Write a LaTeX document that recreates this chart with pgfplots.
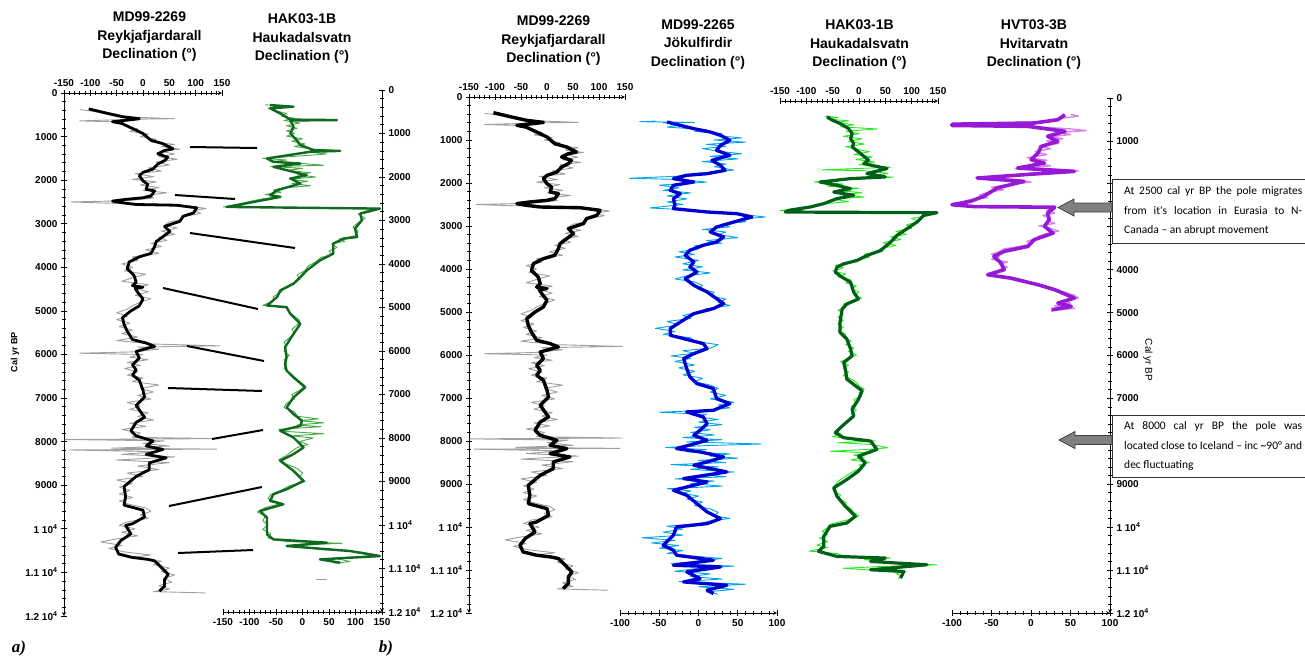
\documentclass[border=0pt]{standalone}
\usepackage{pgfplots}
\pgfplotsset{compat=1.18}
\usepackage{pgfplotstable}
\usepackage{fontspec}
\setmainfont{Liberation Sans}
\newfontfamily\notefont{Carlito}
\newfontfamily\serifb{Liberation Serif}

\definecolor{rawgray}{RGB}{160,160,160}
\definecolor{dblue}{RGB}{0,0,210}
\definecolor{lblue}{RGB}{0,165,235}
\definecolor{dgreen}{RGB}{0,95,25}
\definecolor{lgreen}{RGB}{40,235,30}
\definecolor{agreen}{RGB}{15,105,30}
\definecolor{algreen}{RGB}{70,170,70}
\definecolor{dpurple}{RGB}{150,25,215}
\definecolor{lpurple}{RGB}{215,130,230}

% MD99-2269 smoothed declination
\pgfplotstableread{
a v
364 -103
465 -68
543 -39
590 -7
610 -20
659 -58
700 -40
814 -20
930 0
1085 15
1163 38
1280 57
1318 41
1395 28
1473 47
1550 41
1628 28
1744 19
1821 0
1899 -7
2015 0
2093 9
2209 6
2248 22
2364 15
2403 0
2441 -33
2480 -58
2519 -39
2558 -13
2575 64
2635 102
2751 96
2829 76
2945 70
2984 60
3061 41
3178 51
3294 38
3410 25
3526 22
3681 15
3759 -7
3875 -26
4030 -30
4185 -17
4340 -13
4420 -20
4456 0
4480 -15
4573 -10
4727 0
4883 -7
4999 -23
5154 -39
5309 -36
5464 -30
5658 -20
5735 6
5813 22
5929 -13
6084 -7
6239 -20
6355 -13
6471 -20
6587 -7
6820 0
6975 3
7169 -13
7324 -4
7441 3
7557 -13
7750 -23
7867 -13
7983 19
8099 6
8177 38
8293 6
8370 44
8487 12
8642 12
8797 -13
9030 -36
9262 -33
9456 -36
9572 0
9727 3
9882 -20
9920 -33
10114 -23
10269 -42
10424 -52
10579 -46
10656 -20
10700 9
10734 22
10889 35
11044 48
11160 41
11315 41
11431 31
}\mdsmooth

% MD99-2269 raw declination
\pgfplotstableread{
a v
380 -120
420 -95
470 -75
540 -50
590 60
600 -10
640 -120
660 -60
700 -40
760 -35
820 -10
880 -25
940 10
1000 -5
1060 25
1120 15
1180 60
1230 35
1290 70
1340 35
1400 60
1460 30
1520 65
1580 25
1650 50
1720 10
1790 35
1850 -15
1920 20
1980 -20
2040 25
2110 -5
2170 30
2230 0
2290 45
2350 5
2410 20
2470 -30
2500 -137
2530 -60
2560 60
2600 90
2650 120
2700 95
2760 110
2830 80
2900 75
2960 50
3040 40
3100 65
3170 35
3240 60
3310 30
3380 45
3450 15
3520 35
3600 5
3680 30
3760 -20
3840 -10
3920 -40
4000 -20
4080 -35
4160 5
4240 -20
4320 -40
4400 10
4480 -15
4560 10
4640 -15
4720 15
4800 -5
4880 -20
4960 -30
5040 -50
5120 -30
5200 -50
5280 -25
5360 -45
5440 -20
5520 -40
5600 -10
5680 -50
5760 20
5800 145
5830 -10
5880 30
5940 -20
5970 -120
6000 0
6060 -25
6120 10
6180 -30
6250 -5
6320 -35
6400 -10
6470 -30
6540 0
6620 -20
6700 30
6780 -5
6860 20
6940 -10
7020 15
7100 -30
7180 -5
7260 -25
7340 10
7420 -10
7500 20
7580 -25
7650 5
7720 -40
7800 -5
7900 -20
7930 145
7950 -148
7980 40
8040 0
8100 50
8150 -60
8170 140
8190 -140
8230 30
8290 -40
8350 60
8420 -50
8480 50
8560 -10
8640 30
8720 -30
8800 0
8880 -50
8960 -20
9040 -45
9120 -25
9200 -45
9280 -20
9360 -45
9440 -25
9520 5
9600 15
9680 -5
9760 10
9840 -30
9920 -45
10000 -15
10080 -40
10160 -10
10240 -55
10300 -80
10380 -40
10450 -65
10530 -35
10600 15
10660 -30
10740 35
10820 20
10900 50
10980 35
11060 60
11140 40
11220 55
11300 30
11380 50
11440 20
11470 118
}\mdraw

% MD99-2265 smoothed
\pgfplotstableread{
a v
581 -40
620 -32
736 -6
814 15
891 28
1008 40
1124 28
1240 23
1356 40
1473 17
1589 28
1705 34
1783 11
1821 -15
1899 -32
1976 -6
2054 -32
2170 -36
2248 -23
2364 -32
2519 -30
2596 -32
2674 11
2713 49
2790 68
2907 45
3023 23
3139 15
3255 32
3371 23
3449 6
3565 -11
3681 -17
3836 -6
3952 -11
4069 -2
4224 -17
4379 -6
4534 11
4689 23
4805 32
4921 19
5038 -6
5231 -23
5386 -36
5541 -36
5619 -19
5735 6
5851 11
5968 -6
6084 -19
6316 -15
6510 -11
6665 -2
6781 19
7014 23
7130 40
7285 19
7324 -15
7441 6
7596 11
7750 2
7867 -6
7983 11
8177 -28
8254 2
8370 32
8487 11
8564 -6
8719 36
8874 -19
8952 11
9146 -32
9262 -15
9456 -2
9650 11
9805 28
9921 11
9998 -28
10192 -32
10424 -45
10540 -32
10656 -28
10772 19
10889 -32
10928 28
11044 -15
11199 2
11277 -19
11354 36
11470 11
11548 19
}\jksmooth

% MD99-2265 raw
\pgfplotstableread{
a v
560 -55
575 -75
585 -20
590 -5
600 -45
640 -20
700 -40
760 10
800 -5
850 30
900 25
950 55
1000 20
1050 60
1100 10
1150 35
1200 5
1260 25
1320 55
1380 15
1440 50
1500 5
1560 35
1620 20
1700 45
1780 -5
1840 -25
1890 -88
1920 -20
1980 10
2050 -50
2110 -25
2170 -45
2230 -10
2300 -40
2370 -15
2440 -40
2500 -20
2580 -62
2620 -20
2680 30
2740 60
2790 85
2850 50
2900 60
2960 30
3020 40
3080 5
3140 35
3200 25
3270 50
3340 10
3400 30
3460 -5
3530 0
3600 -25
3660 -5
3720 -30
3800 0
3880 -20
3950 5
4020 -20
4090 15
4160 -15
4230 -30
4300 -5
4380 5
4460 0
4540 20
4620 15
4700 35
4780 25
4850 40
4920 10
5000 0
5080 -20
5150 -10
5220 -40
5300 -25
5380 -55
5450 -30
5520 -45
5600 -10
5680 -5
5760 25
5840 15
5900 -20
5960 -5
6020 -35
6080 -10
6150 -30
6230 -5
6300 -25
6380 -5
6460 -20
6540 5
6620 -5
6700 15
6780 25
6860 15
6940 35
7020 15
7100 45
7160 25
7230 40
7290 5
7330 -50
7380 10
7440 0
7500 25
7560 0
7620 30
7680 -5
7740 15
7800 -10
7860 20
7920 -20
7970 30
8020 -15
8070 80
8110 5
8150 -42
8200 10
8250 -15
8300 40
8350 15
8400 50
8450 0
8500 35
8550 -35
8600 25
8660 -10
8720 45
8780 5
8830 35
8880 -30
8930 20
8990 -10
9050 30
9110 -40
9160 -10
9220 -20
9280 0
9350 -15
9420 5
9500 -5
9580 15
9660 25
9740 20
9800 40
9860 15
9920 0
9980 -40
10050 -20
10120 -45
10190 -20
10250 -72
10310 -30
10370 -60
10430 -25
10490 -50
10550 -20
10610 -40
10670 -10
10730 30
10790 5
10850 -35
10910 45
10970 -5
11030 -30
11090 15
11150 -10
11210 30
11270 -25
11330 60
11390 0
11450 45
11510 10
11560 25
}\jkraw

% HAK03-1B smoothed
\pgfplotstableread{
a v
466 -61
544 -51
622 -36
738 -20
855 -13
971 -16
1088 -10
1166 -13
1321 3
1476 18
1554 9
1671 53
1787 15
1865 50
1904 -16
1982 -74
2059 -42
2137 -16
2215 -48
2292 -10
2370 -42
2486 -67
2564 -93
2642 -134
2680 -140
2696 148
2758 123
2914 110
3069 91
3224 72
3380 60
3574 41
3691 15
3807 -4
3885 -29
3963 -42
4079 -45
4196 -32
4312 -16
4545 -10
4701 -1
4817 -23
4934 -32
5245 -36
5478 -36
5633 -23
5866 -16
6022 -13
6177 -29
6333 -26
6566 -23
6838 6
7032 -1
7265 -13
7421 -10
7654 -32
7809 -45
7926 -29
8003 22
8197 34
8353 -1
8508 12
8702 -1
8897 -23
9091 -48
9285 -42
9518 -26
9751 -7
9907 -23
9985 -55
10218 -67
10451 -67
10567 -77
10684 -42
10723 50
10800 22
10839 72
10878 129
10995 22
11034 85
11189 79
}\haksmooth

% HAK03-1B raw
\pgfplotstableread{
a v
450 -65
480 -40
520 -60
560 -20
600 -45
650 -10
700 -35
750 35
800 -25
860 0
920 -30
980 5
1040 -20
1100 10
1160 -25
1220 -5
1280 20
1340 -10
1400 25
1460 -5
1520 30
1580 0
1640 60
1700 -70
1720 10
1780 55
1840 25
1870 65
1920 -20
1980 -85
2030 -30
2080 -60
2130 0
2180 -40
2230 5
2280 -30
2330 10
2380 -50
2440 -20
2500 -75
2560 -95
2610 -120
2645 -150
2680 -100
2700 148
2760 130
2830 100
2900 115
2980 90
3060 100
3130 70
3200 90
3260 60
3320 80
3390 45
3460 70
3530 40
3600 45
3660 10
3730 20
3800 -10
3860 -20
3920 -45
3980 -30
4050 -50
4120 -25
4190 -40
4260 -15
4330 -25
4400 -5
4470 -15
4540 0
4610 -10
4680 5
4750 -15
4820 -30
4890 -25
4960 -40
5040 -30
5120 -40
5200 -30
5280 -40
5360 -30
5440 -40
5520 -25
5600 -30
5680 -15
5760 -25
5840 -10
5920 -20
6000 -5
6080 -20
6160 -35
6240 -20
6320 -30
6400 -20
6480 -30
6560 -15
6640 -5
6720 0
6800 10
6880 0
6960 5
7040 -10
7120 -5
7200 -15
7280 -5
7360 -15
7440 -10
7520 -20
7600 -30
7680 -35
7760 -45
7840 -35
7900 -50
7950 -20
8000 30
8040 -40
8080 20
8120 40
8160 55
8200 15
8240 -55
8280 25
8330 -10
8380 10
8440 -15
8500 20
8560 0
8620 5
8700 -10
8780 -20
8860 -30
8940 -40
9020 -45
9100 -50
9180 -45
9260 -35
9340 -40
9420 -25
9500 -25
9580 -15
9660 -10
9740 0
9800 -10
9860 -30
9940 -55
10020 -60
10100 -70
10180 -60
10260 -75
10340 -60
10420 -80
10480 -60
10560 -95
10620 -40
10680 -30
10720 60
10760 10
10800 40
10850 80
10880 148
10920 40
10960 -30
11000 20
11040 90
11080 70
11140 80
11200 75
}\hakraw

% HVT03-3B smoothed
\pgfplotstableread{
a v
389 43
505 34
583 4
610 -100
640 -100
660 -4
777 43
894 21
1010 34
1127 13
1282 9
1437 0
1515 17
1632 -17
1709 55
1787 -9
1865 -68
1942 -9
2098 -43
2292 -60
2409 -77
2486 -100
2530 -72
2545 30
2680 21
2836 23
2991 17
3147 28
3302 4
3458 -4
3574 -34
3691 -47
3846 -38
4001 -34
4118 -55
4196 -26
4351 9
4467 30
4662 55
4778 34
4856 51
4934 26
}\hvtsmooth

% HVT03-3B raw
\pgfplotstableread{
a v
380 50
420 60
470 40
520 35
560 10
600 -95
630 -20
680 15
720 50
760 70
800 35
850 50
900 25
950 40
1000 20
1060 35
1120 10
1180 25
1250 5
1320 20
1390 -5
1450 20
1520 5
1580 25
1640 -20
1700 60
1750 0
1800 -10
1850 -70
1900 -20
1960 0
2020 -30
2080 -50
2140 -35
2200 -55
2260 -65
2320 -55
2380 -80
2440 -90
2490 -100
2530 -60
2560 30
2620 20
2680 30
2740 15
2800 25
2860 20
2920 30
2980 10
3040 25
3100 35
3160 20
3220 10
3280 5
3340 -5
3400 0
3460 -15
3520 -35
3580 -40
3640 -50
3700 -40
3760 -50
3820 -30
3880 -40
3940 -30
4000 -40
4060 -45
4120 -55
4180 -25
4240 -10
4300 0
4360 15
4420 25
4480 35
4540 45
4600 55
4660 60
4720 40
4780 50
4840 30
4900 55
4960 25
}\hvtraw

% panel a: HAK03-1B smoothed (older age model)
\pgfplotstableread{
a v
346 -61
384 -17
422 -61
538 -42
680 -23
691 65
700 -23
845 -17
998 -23
1152 -11
1267 -4
1382 21
1400 71
1421 14
1574 -67
1651 -55
1690 -4
1766 -55
1882 -17
1958 8
2035 -23
2150 -4
2304 -48
2419 -61
2458 -42
2573 -92
2688 -143
2726 146
2842 109
2995 112
3187 99
3379 103
3418 77
3533 58
3763 58
3917 33
4147 8
4301 -4
4454 -17
4608 -42
4762 -48
4954 -67
4992 -30
5146 -23
5376 -4
5606 -17
5914 -33
6144 -30
6298 -33
6451 -30
6605 -17
6835 5
7066 -17
7296 -30
7450 -17
7603 -1
7718 -4
7834 -42
7987 -17
8218 2
8371 -17
8525 -42
8755 -17
8986 2
9178 -30
9293 -55
9446 -61
9523 -36
9677 -80
9830 -67
10214 -67
10330 -55
10406 46
10483 -30
10598 90
10714 146
10790 33
10867 71
}\hakasmooth

% panel a: HAK03-1B raw
\pgfplotstableread{
a v
340 -70
380 -20
420 -65
480 -50
540 -30
600 -40
650 -15
700 -35
760 -5
820 -30
880 -10
940 -30
1000 -15
1060 -30
1120 0
1180 -20
1240 5
1300 -15
1360 20
1400 70
1420 10
1470 45
1530 -20
1570 -75
1610 -30
1650 -60
1690 0
1730 40
1760 -60
1800 0
1850 -30
1900 15
1950 -10
2000 25
2050 -25
2100 10
2150 -20
2200 15
2250 -35
2300 -55
2350 -40
2400 -70
2450 -40
2500 -75
2550 -95
2620 -120
2690 -150
2720 140
2780 120
2850 105
2950 118
3050 105
3150 95
3250 105
3350 100
3420 70
3480 80
3530 55
3620 65
3700 50
3780 55
3850 35
3950 25
4050 10
4150 5
4250 -10
4350 -5
4450 -20
4550 -35
4650 -40
4750 -55
4850 -55
4950 -75
5000 -30
5100 -25
5200 -15
5300 -5
5400 -10
5500 -20
5600 -15
5700 -25
5800 -35
5900 -30
6000 -35
6100 -25
6200 -35
6300 -30
6400 -35
6500 -25
6600 -15
6700 -5
6800 5
6900 -5
7000 -20
7100 -15
7200 -30
7300 -35
7400 -15
7500 -10
7560 30
7600 -5
7650 40
7700 -10
7740 35
7800 -45
7850 -30
7900 40
7950 -20
8000 20
8080 -5
8150 10
8220 -10
8300 -20
8400 -30
8500 -45
8600 -30
8700 -10
8800 0
8900 -5
9000 5
9100 -25
9200 -40
9300 -60
9400 -65
9500 -40
9600 -70
9700 -85
9800 -70
9900 -75
10000 -65
10100 -75
10200 -60
10300 -65
10380 -30
10420 75
10470 -20
10560 30
10620 110
10700 145
10760 60
10840 90
10880 60
}\hakaraw

\pgfplotstableread{
a v
11250 25
11250 47
}\hakadash

\pgfplotsset{
  core/.style={scale only axis, y dir=reverse, ymin=0, ymax=12000, clip=false,
    scaled y ticks=false, scaled x ticks=false,
    axis line style={-, line width=0.8pt, black},
    major tick length=6pt, minor tick length=3.5pt,
    tick style={line width=0.7pt, black},
    minor x tick num=4, minor y tick num=4,
    ytick={0,1000,...,12000},
    yticklabels={0,1000,2000,3000,4000,5000,6000,7000,8000,9000,1 10\textsuperscript{4},1.1 10\textsuperscript{4},1.2 10\textsuperscript{4}},
    tick label style={font=\bfseries\fontsize{10}{12}\selectfont},
  },
  wide/.style={xmin=-150, xmax=150, xtick={-150,-100,...,150},
    xticklabels={-150,-100,-50,0,50,100,150}},
  narrow/.style={xmin=-100, xmax=100, xtick={-100,-50,...,100},
    xticklabels={-100,-50,0,50,100}},
  raw/.style={line width=0.9pt, line join=round},
  thick/.style={line width=3.4pt, line join=round},
}

\begin{document}
\begin{tikzpicture}
\useasboundingbox (0pt,0pt) rectangle (1305pt,-659pt);

% ---------- panel a ----------
\begin{axis}[core, wide, at={(64pt,-93pt)}, anchor=north west,
    width=158pt, height=523pt, axis x line=top, axis y line=left]
\addplot[raw, rawgray] table[x=v, y=a] {\mdraw};
\addplot[thick, black, line width=2.8pt] table[x=v, y=a] {\mdsmooth};
\end{axis}

\begin{axis}[core, wide, at={(223pt,-90pt)}, anchor=north west,
    width=159pt, height=522pt, axis x line=bottom, axis y line=right]
\addplot[raw, algreen] table[x=v, y=a] {\hakaraw};
\addplot[thick, agreen, line width=2.4pt] table[x=v, y=a] {\hakasmooth};
\addplot[raw, rawgray] table[x=v, y=a] {\hakadash};
\end{axis}

% ---------- panel b ----------
\begin{axis}[core, wide, at={(469pt,-97pt)}, anchor=north west,
    width=156pt, height=516pt, axis x line=top, axis y line=left]
\addplot[raw, rawgray] table[x=v, y=a] {\mdraw};
\addplot[thick, black] table[x=v, y=a] {\mdsmooth};
\end{axis}

\begin{axis}[core, narrow, at={(620pt,-97pt)}, anchor=north west,
    width=157pt, height=516pt, axis x line=bottom, axis y line=none]
\addplot[raw, lblue] table[x=v, y=a] {\jkraw};
\addplot[thick, dblue, line width=3.3pt] table[x=v, y=a] {\jksmooth};
\end{axis}

\begin{axis}[core, wide, ymin=100, at={(780pt,-101pt)}, anchor=north west,
    width=158pt, height=512pt, axis x line=top, axis y line=none]
\addplot[raw, lgreen] table[x=v, y=a] {\hakraw};
\addplot[thick, dgreen, line width=3.2pt] table[x=v, y=a] {\haksmooth};
\end{axis}

% tick labels hidden under the note boxes are left blank
\begin{axis}[core, narrow, at={(952pt,-98pt)}, anchor=north west,
    width=158pt, height=515pt, axis x line=bottom, axis y line=right,
    yticklabels={0,1000,,,4000,5000,6000,7000,,9000,1 10\textsuperscript{4},1.1 10\textsuperscript{4},1.2 10\textsuperscript{4}}]
\addplot[raw, lpurple, line width=1.4pt] table[x=v, y=a] {\hvtraw};
\addplot[thick, dpurple, line width=3.6pt] table[x=v, y=a] {\hvtsmooth};
\end{axis}

\begin{scope}[x=1pt, y=-1pt]
% tie lines between the two records of panel a
\foreach \p/\q in {{190,147}/{257,148}, {175,195}/{235,199}, {190,233}/{295,248},
    {163,288}/{258,309}, {187,346}/{264,361}, {168,388}/{262,391},
    {212,439}/{263,430}, {169,506}/{262,487}, {178,553}/{253,550}}
  \draw[line width=2pt, black] (\p) -- (\q);

\tikzset{ttl/.style={align=center, font=\bfseries\fontsize{14}{18.5}\selectfont}}
\node[ttl] at (149.5,37) {MD99-2269\\Reykjafjardarall\\Declination (°)};
\node[ttl] at (302,39) {HAK03-1B\\Haukadalsvatn\\Declination (°)};
\node[ttl] at (553.5,41) {MD99-2269\\Reykjafjardarall\\Declination (°)};
\node[ttl] at (698,44.5) {MD99-2265\\Jökulfirdir\\Declination (°)};
\node[ttl] at (859.5,45) {HAK03-1B\\Haukadalsvatn\\Declination (°)};
\node[ttl] at (1034,45) {HVT03-3B\\Hvitarvatn\\Declination (°)};

\node[rotate=90, font=\bfseries\fontsize{9}{11}\selectfont] at (15,352) {Cal yr BP};
\node[rotate=-90, font=\fontsize{10}{12}\selectfont] at (1148,360) {Cal yr BP};

\node[font=\serifb\bfseries\itshape\fontsize{17}{20}\selectfont] at (19,648) {a)};
\node[font=\serifb\bfseries\itshape\fontsize{17}{20}\selectfont] at (386,648) {b)};

% notes and arrows
\draw[line width=1pt, black!80, fill=white] (1112,179) rectangle (1320,243);
\node[anchor=west, text width=178pt, align=justify, inner sep=0pt,
  font=\notefont\fontsize{11.5}{19.5}\selectfont] at (1124,211)
  {At 2500 cal yr BP the pole migrates\linebreak from it's location in Eurasia to N-\linebreak Canada – an abrupt movement};
\draw[line width=1pt, black!80, fill=white] (1112,415) rectangle (1320,477);
\node[anchor=west, text width=178pt, align=justify, inner sep=0pt,
  font=\notefont\fontsize{11.5}{19.5}\selectfont] at (1124,446)
  {At 8000 cal yr BP the pole was\linebreak located close to Iceland – inc \textasciitilde90° and\linebreak dec fluctuating};

\draw[fill=black!50, draw=black!75, line width=0.8pt]
  (1058,207.5) -- (1074,199) -- (1074,203) -- (1112,203) -- (1112,212) -- (1074,212) -- (1074,216) -- cycle;
\draw[fill=black!50, draw=black!75, line width=0.8pt]
  (1059,440) -- (1075,431.5) -- (1075,435.5) -- (1112,435.5) -- (1112,444.5) -- (1075,444.5) -- (1075,448.5) -- cycle;
\end{scope}
\end{tikzpicture}
\end{document}
